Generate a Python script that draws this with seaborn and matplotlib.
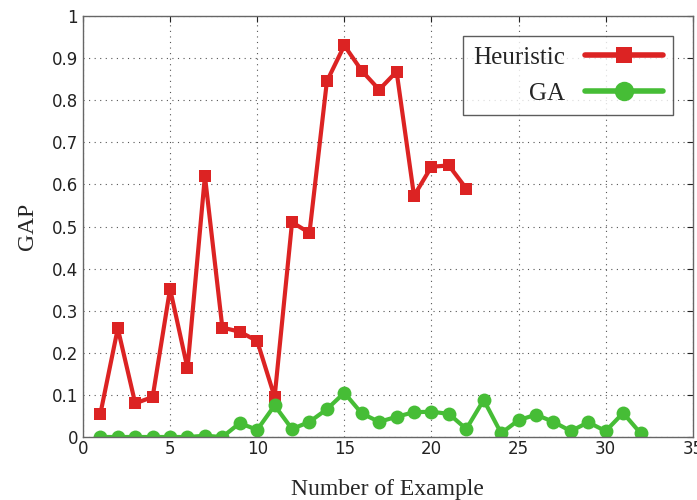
import numpy as np
import pandas as pd
import matplotlib
matplotlib.use("Agg")
import matplotlib.pyplot as plt
import seaborn as sns

heur_x = list(range(1, 23))
heur_y = [0.055, 0.258, 0.080, 0.095, 0.352, 0.163, 0.620, 0.260, 0.250, 0.228,
          0.095, 0.510, 0.485, 0.845, 0.930, 0.870, 0.825, 0.868, 0.573, 0.642,
          0.645, 0.590]
ga_x = list(range(1, 33))
ga_y = [0.0, 0.0, 0.0, 0.0, 0.0, 0.0, 0.003, 0.0, 0.033, 0.017,
        0.075, 0.019, 0.036, 0.066, 0.105, 0.056, 0.036, 0.048, 0.059, 0.060,
        0.055, 0.019, 0.088, 0.009, 0.040, 0.053, 0.036, 0.014, 0.035, 0.014,
        0.057, 0.009]
x_ticks = [0, 5, 10, 15, 20, 25, 30, 35]
y_ticks = [0, 0.1, 0.2, 0.3, 0.4, 0.5, 0.6, 0.7, 0.8, 0.9, 1]
y_tick_labels = ["0", "0.1", "0.2", "0.3", "0.4", "0.5", "0.6", "0.7", "0.8", "0.9", "1"]

sns.set_style("white")
plt.rcParams['font.family'] = ['Liberation Sans Narrow', 'DejaVu Sans']

fig = plt.figure(figsize=(6.97, 5.0), dpi=100)
ax = fig.add_axes([0.119, 0.126, 0.875, 0.842])

red = "#dc2323"
green = "#46bd36"
sns.lineplot(x=heur_x, y=heur_y, ax=ax, color=red, lw=3, marker="s", markersize=8,
             markeredgewidth=0, label="Heuristic")
sns.lineplot(x=ga_x, y=ga_y, ax=ax, color=green, lw=3, marker="o", markersize=10,
             markeredgewidth=0, label="GA")

ax.set_xlim(0, 35)
ax.set_ylim(0, 1)
ax.set_xticks(x_ticks)
ax.set_yticks(y_ticks)
ax.set_yticklabels(y_tick_labels)
ax.tick_params(axis="both", direction="in", length=4, width=0.8, labelsize=12,
               top=True, right=True, colors="#222222")
ax.tick_params(axis="x", pad=2)
ax.grid(True, linestyle=(0, (1, 4)), color="#555555", linewidth=0.8)
for s in ax.spines.values():
    s.set_color("#666666")
    s.set_linewidth(1.0)

serif = ["Liberation Serif", "DejaVu Serif"]
ax.set_xlabel("Number of Example", fontsize=17, family=serif, labelpad=15)
ax.set_ylabel("GAP", fontsize=17, family=serif, labelpad=10)

leg = ax.legend(loc="upper right", bbox_to_anchor=(0.967, 0.952), borderaxespad=0,
                markerfirst=False, frameon=True, fancybox=False, edgecolor="#333333",
                prop={"family": serif, "size": 18}, markerscale=1.4,
                handlelength=3.1, borderpad=0.4, labelspacing=0.55, handletextpad=0.8)
leg.get_frame().set_linewidth(1.0)
for h in leg.legend_handles:
    h.set_linewidth(4)

fig.savefig("out.png", dpi=100)
